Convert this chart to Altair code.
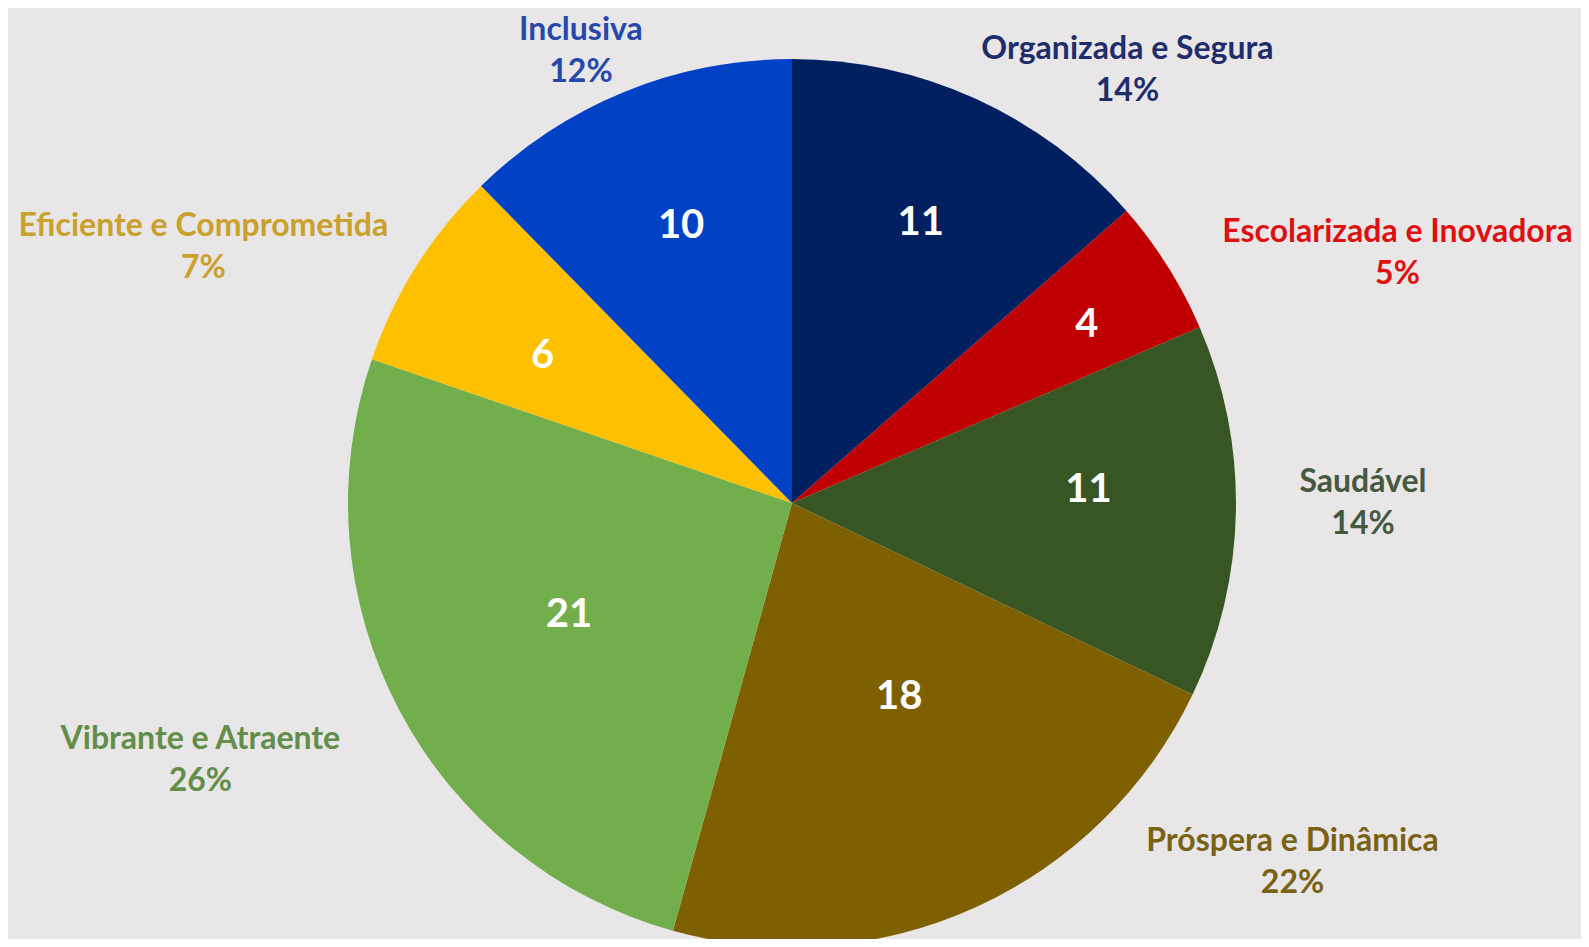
import math
import altair as alt
import pandas as pd

# ---- data ----
categories = [
    "Organizada e Segura",
    "Escolarizada e Inovadora",
    "Saudável",
    "Próspera e Dinâmica",
    "Vibrante e Atraente",
    "Eficiente e Comprometida",
    "Inclusiva",
]
values = [11, 4, 11, 18, 21, 6, 10]

# ---- styling / layout ----
slice_colors = ["#002060", "#C00000", "#375623", "#7F6000", "#72AF4C", "#FFC000", "#0041C6"]
label_colors = ["#1F2E6A", "#DD1111", "#45593F", "#7A6215", "#628E49", "#C9A12C", "#2549AA"]
inner_label_radius = [311, 346, 297, 219, 248, 291, 301]
inner_label_nudge_deg = [0, 0.7, -4.2, -4.9, 1.8, -1.2, 0.6]
outer_label_nudge_deg = [13.3, 9.8, -1.1, -29.9, 4.3, -8.7, -2.8]
outer_label_radius = [548, 655, 571, 616, 645, 642, 499]

CX, CY, R = 784, 495, 444
BG = "#E8E6E7"
FONT = "Lato"
LINE_H = 42

total = sum(values)
rows = []
cum = 0
for i, (c, v) in enumerate(zip(categories, values)):
    mid = (cum + v / 2) / total * 2 * math.pi
    cum += v
    pct = round(v / total * 100)
    rows.append({
        "idx": i,
        "category": c,
        "value": v,
        "outer_text": f"{c}\n{pct}%",
        "in_theta": mid + math.radians(inner_label_nudge_deg[i]),
        "in_r": inner_label_radius[i],
        "lab_theta": mid + math.radians(outer_label_nudge_deg[i]),
        "lab_r": outer_label_radius[i],
    })
df = pd.DataFrame(rows)

base = alt.Chart(df)

pie = base.mark_arc(outerRadius=R).encode(
    x=alt.value(CX),
    y=alt.value(CY),
    theta=alt.Theta("value:Q", stack=True),
    order=alt.Order("idx:Q"),
    color=alt.Color("category:N", scale=alt.Scale(domain=categories, range=slice_colors), legend=None),
)

inner = base.mark_text(
    font=FONT, fontWeight="bold", fontSize=40, color="#FFFFFF", align="center", baseline="middle", dy=3
).encode(
    x=alt.value(CX),
    y=alt.value(CY),
    theta=alt.Theta("in_theta:Q", scale=None, stack=None),
    radius=alt.Radius("in_r:Q", scale=None),
    text=alt.Text("value:Q"),
)

outer = base.mark_text(
    font=FONT, fontWeight="bold", fontSize=32, align="center", baseline="middle",
    lineBreak="\n", lineHeight=LINE_H, dy=-LINE_H / 2,
).encode(
    x=alt.value(CX),
    y=alt.value(CY),
    theta=alt.Theta("lab_theta:Q", scale=None, stack=None),
    radius=alt.Radius("lab_r:Q", scale=None),
    text=alt.Text("outer_text:N"),
    color=alt.Color("category:N", scale=alt.Scale(domain=categories, range=label_colors), legend=None),
)

chart = (
    alt.layer(pie, inner, outer)
    .resolve_scale(theta="independent", color="independent", radius="independent")
    .properties(width=1573, height=931, autosize=alt.AutoSizeParams(type="none"), padding=0, background=BG)
    .configure_view(stroke=None)
)

chart.save("out.html", embed_options={"renderer": "svg", "actions": False})
